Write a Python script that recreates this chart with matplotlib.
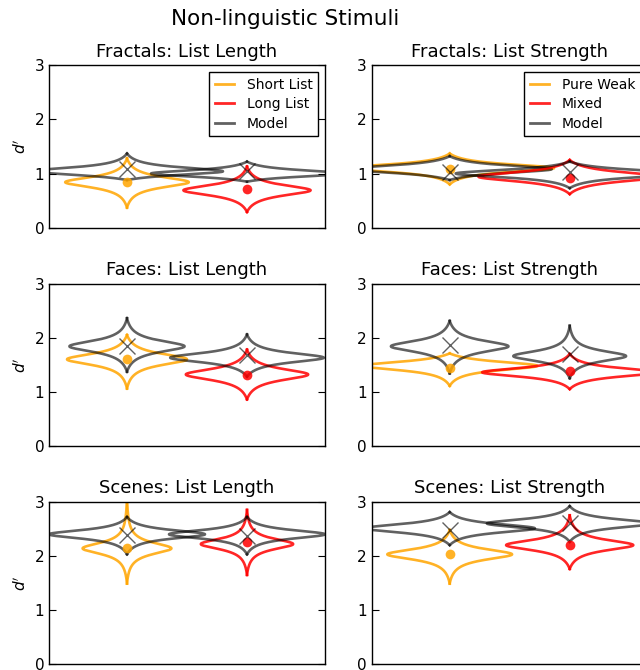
import numpy as np
import matplotlib
matplotlib.use("Agg")
from matplotlib import pyplot as plt
from matplotlib.lines import Line2D

# panels: Fractals / Faces / Scenes, list length (left) and list strength (right)
titles = ["Fractals: List Length", "Fractals: List Strength",
          "Faces: List Length", "Faces: List Strength",
          "Scenes: List Length", "Scenes: List Strength"]
ll_labels = ["Short List", "Long List", "Model"]
ls_labels = ["Pure Weak", "Mixed", "Model"]

# observed d' distributions: [condition 1, condition 2] per panel
data_peak = [[0.84, 0.69], [1.10, 0.94], [1.60, 1.32], [1.48, 1.36], [2.14, 2.22], [2.03, 2.20]]
data_lo = [[0.37, 0.29], [0.80, 0.62], [1.06, 0.86], [1.11, 1.05], [1.49, 1.65], [1.49, 1.76]]
data_hi = [[1.28, 1.13], [1.37, 1.25], [2.05, 1.78], [1.71, 1.70], [3.10, 2.85], [2.48, 2.75]]
data_scale = [[0.12, 0.12], [0.09, 0.11], [0.13, 0.13], [0.10, 0.10], [0.13, 0.12], [0.12, 0.12]]
data_width = [[1.03, 1.06], [1.74, 1.52], [1.00, 1.02], [1.46, 1.46], [0.74, 0.77], [1.04, 1.06]]
data_mean = [[0.85, 0.71], [1.09, 0.92], [1.60, 1.32], [1.44, 1.39], [2.15, 2.26], [2.03, 2.20]]

# model predicted d' distributions
model_peak = [[1.04, 1.00], [1.08, 1.00], [1.84, 1.63], [1.84, 1.66], [2.40, 2.40], [2.51, 2.60]]
model_lo = [[0.88, 0.85], [0.88, 0.73], [1.37, 1.28], [1.34, 1.25], [2.03, 2.03], [2.20, 2.26]]
model_hi = [[1.37, 1.22], [1.32, 1.22], [2.36, 2.06], [2.31, 2.22], [2.72, 2.72], [2.81, 2.92]]
model_scale = [[0.09, 0.08], [0.09, 0.09], [0.13, 0.11], [0.13, 0.12], [0.10, 0.10], [0.10, 0.10]]
model_width = [[1.60, 1.60], [1.70, 1.90], [0.96, 1.28], [0.98, 0.94], [1.30, 1.30], [1.42, 1.38]]
model_mean = [[1.09, 1.05], [1.03, 1.03], [1.85, 1.68], [1.86, 1.70], [2.38, 2.37], [2.48, 2.60]]

positions = [1, 2]
c_data = [(1.0, 0.647, 0.0, 0.85), (1.0, 0.0, 0.0, 0.85)]
c_model = (0.0, 0.0, 0.0, 0.62)


def density(peak, lo, hi, scale, n=300):
    y = np.linspace(lo, hi, n)
    d = y - peak
    c = 1.0 / (1.0 + (d / scale) ** 2)
    tip_hi = 1.0 / (1.0 + ((hi - peak) / scale) ** 2)
    tip_lo = 1.0 / (1.0 + ((lo - peak) / scale) ** 2)
    tip = np.where(d >= 0, tip_hi, tip_lo)
    f = np.clip((c - tip) / (1.0 - tip), 0, None)
    return y, f


def draw_violin(ax, pos, peak, lo, hi, scale, width, color):
    y, f = density(peak, lo, hi, scale)
    half = f * width / 2.0
    ax.plot(pos - half, y, color=color, lw=1.9)
    ax.plot(pos + half, y, color=color, lw=1.9)


fig = plt.figure(figsize=(6.4, 6.7), dpi=100)
fig.suptitle("Non-linguistic Stimuli", x=0.445, y=0.987, fontsize=15.5)

col_left = [49 / 640, 371.7 / 640]
row_bottom = [1 - 227.7 / 670, 1 - 446 / 670, 1 - 664.3 / 670]
ax_w = 276 / 640
ax_h = 162.5 / 670

for i, title in enumerate(titles):
    row, col = divmod(i, 2)
    ax = fig.add_axes([col_left[col], row_bottom[row], ax_w, ax_h])
    for j, pos in enumerate(positions):
        draw_violin(ax, pos, data_peak[i][j], data_lo[i][j], data_hi[i][j],
                    data_scale[i][j], data_width[i][j], c_data[j])
        draw_violin(ax, pos, model_peak[i][j], model_lo[i][j], model_hi[i][j],
                    model_scale[i][j], model_width[i][j], c_model)
        ax.plot(pos, data_mean[i][j], 'o', color=c_data[j], ms=7, mec='none')
        ax.plot(pos, model_mean[i][j], 'x', color=c_model, ms=12, mew=1.0)

    ax.set_xlim(0.35, 2.65)
    ax.set_ylim(0, 3)
    ax.set_xticks([])
    ax.set_yticks([0, 1, 2, 3])
    ax.tick_params(axis='y', direction='in', right=True, length=5, labelsize=11)
    for sp in ax.spines.values():
        sp.set_linewidth(1.0)
    ax.set_title(title, fontsize=13)
    if col == 0:
        ax.set_ylabel("$d'$", fontsize=11)

    if row == 0:
        labels = ll_labels if col == 0 else ls_labels
        handles = [Line2D([], [], color=c_data[0], lw=2),
                   Line2D([], [], color=c_data[1], lw=2),
                   Line2D([], [], color=c_model, lw=2)]
        leg = ax.legend(handles, labels, loc='upper right', fontsize=10,
                        handlelength=1.4, handletextpad=0.9, borderpad=0.4,
                        labelspacing=0.4, fancybox=False, framealpha=1)
        leg.get_frame().set_edgecolor('black')
        leg.get_frame().set_linewidth(1.0)

fig.savefig("out.png", dpi=100)
